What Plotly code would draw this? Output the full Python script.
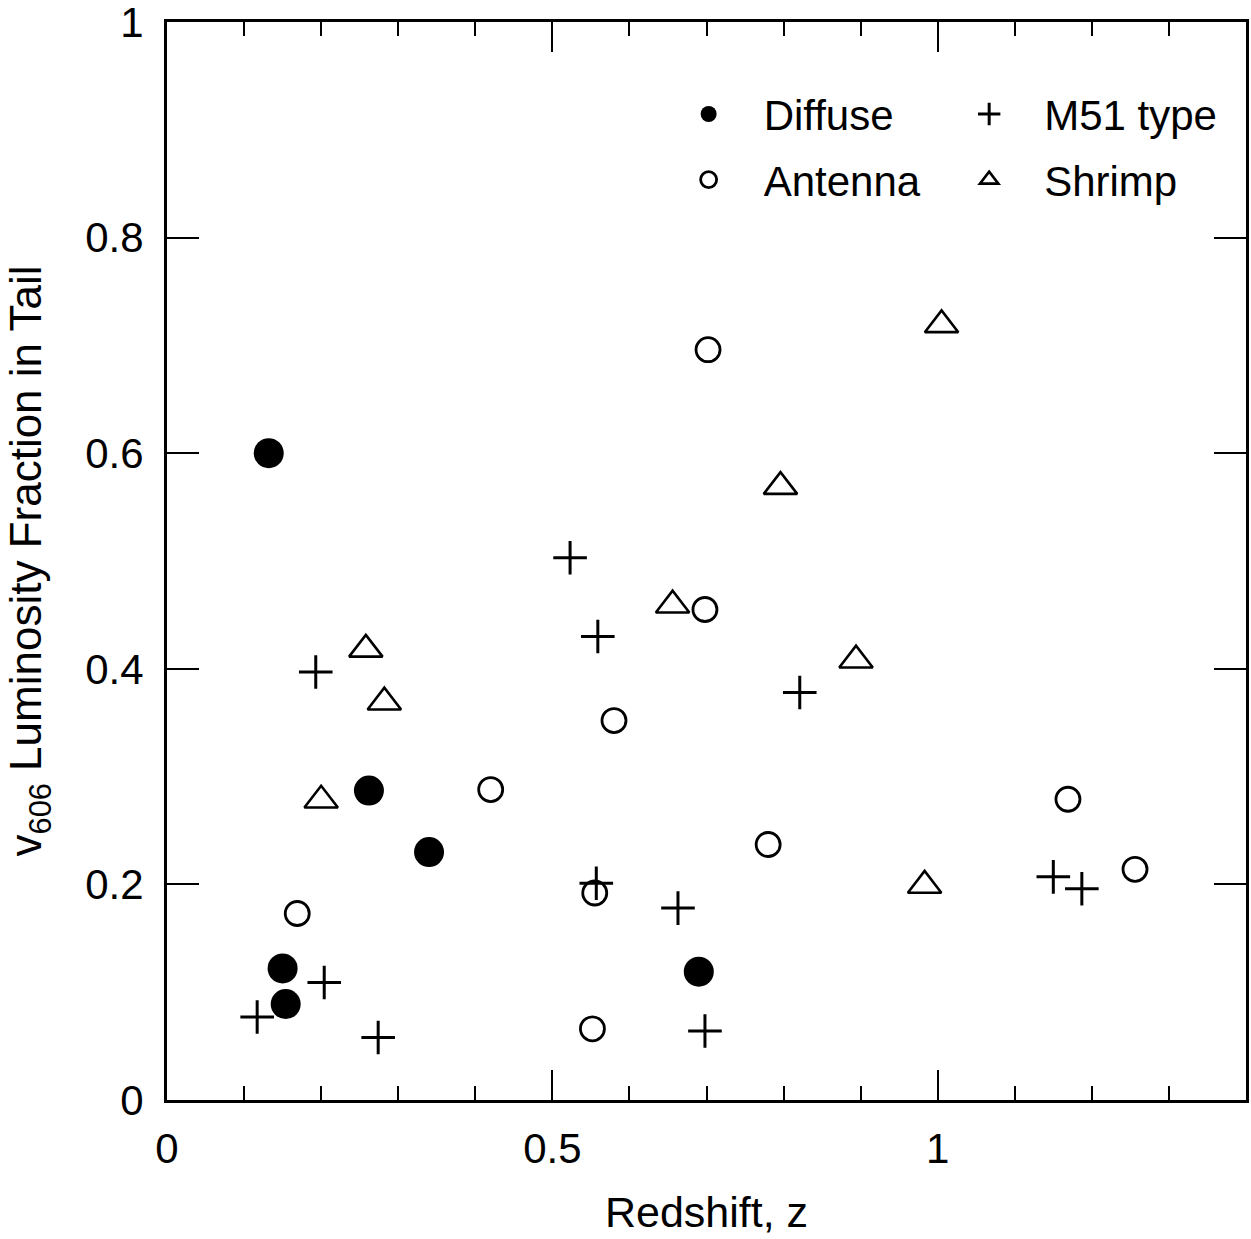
import plotly.graph_objects as go

# Diffuse (filled circles)
diffuse_z = [0.132, 0.262, 0.340, 0.150, 0.154, 0.690]
diffuse_f = [0.600, 0.287, 0.230, 0.122, 0.089, 0.119]

# Antenna (open circles)
antenna_z = [0.702, 0.698, 0.580, 0.420, 0.780, 1.169, 1.256, 0.169, 0.555, 0.552]
antenna_f = [0.696, 0.455, 0.352, 0.288, 0.237, 0.279, 0.214, 0.173, 0.192, 0.066]

# M51 type (plus)
m51_z = [0.523, 0.559, 0.193, 0.821, 0.557, 0.663, 0.698, 0.117, 0.204, 0.274, 1.150, 1.187]
m51_f = [0.503, 0.430, 0.397, 0.378, 0.201, 0.178, 0.064, 0.077, 0.109, 0.058, 0.207, 0.196]

# Shrimp (open triangles)
shrimp_z = [1.005, 0.796, 0.656, 0.258, 0.282, 0.894, 0.200, 0.983]
shrimp_f = [0.719, 0.569, 0.459, 0.418, 0.369, 0.408, 0.278, 0.199]

FONT = "Liberation Sans, Arial, Helvetica, sans-serif"

fig = go.Figure()
fig.add_trace(go.Scatter(x=diffuse_z, y=diffuse_f, mode="markers", name="Diffuse",
                         legend="legend", legendgroup="a",
                         marker=dict(symbol="circle", size=30, color="black")))
fig.add_trace(go.Scatter(x=antenna_z, y=antenna_f, mode="markers", name="Antenna",
                         legend="legend", legendgroup="b",
                         marker=dict(symbol="circle-open", size=24, color="black",
                                     line=dict(width=2.8, color="black"))))
fig.add_trace(go.Scatter(x=m51_z, y=m51_f, mode="markers", name="M51 type",
                         legend="legend2", legendgroup="c",
                         marker=dict(symbol="cross-thin-open", size=24, color="black",
                                     line=dict(width=3, color="black"))))
fig.add_trace(go.Scatter(x=shrimp_z, y=shrimp_f, mode="markers", name="Shrimp",
                         legend="legend2", legendgroup="d",
                         marker=dict(symbol="triangle-up-open", size=29, color="black",
                                     line=dict(width=2.6, color="black"))))

legend_common = dict(font=dict(family=FONT, size=42, color="black"),
                     bgcolor="rgba(0,0,0,0)", borderwidth=0,
                     itemsizing="trace", tracegroupgap=8, itemwidth=100,
                     xanchor="left", yanchor="top")

fig.update_layout(
    width=1251, height=1239,
    margin=dict(l=167, r=5, t=22, b=139, autoexpand=False),
    paper_bgcolor="white", plot_bgcolor="white",
    font=dict(family=FONT, size=42, color="black"),
    showlegend=True,
    legend=dict(x=0.451, y=0.946, **legend_common),
    legend2=dict(x=0.711, y=0.946, **legend_common),
    xaxis=dict(range=[0, 1.4], tickmode="array", tickvals=[0, 0.5, 1],
               ticktext=["0", "0.5", "1"],
               ticks="inside", ticklen=30, tickwidth=2, tickcolor="black",
               minor=dict(dtick=0.1, tick0=0, ticks="inside", ticklen=14,
                          tickwidth=2, tickcolor="black", showgrid=False),
               showline=True, linewidth=3, linecolor="black", mirror="allticks",
               showgrid=False, zeroline=False, ticklabelstandoff=10,
               ticklabeloverflow="allow", automargin=False,
               tickfont=dict(family=FONT, size=42),
               title=dict(text="Redshift, z", font=dict(family=FONT, size=43),
                          standoff=26)),
    yaxis=dict(range=[0, 1], tickmode="array", tickvals=[0, 0.2, 0.4, 0.6, 0.8, 1],
               ticktext=["0", "0.2", "0.4", "0.6", "0.8", "1"],
               ticks="inside", ticklen=32, tickwidth=2, tickcolor="black",
               showline=True, linewidth=3, linecolor="black", mirror="allticks",
               showgrid=False, zeroline=False, ticklabelstandoff=12,
               ticklabeloverflow="allow", automargin=False,
               tickfont=dict(family=FONT, size=42),
               title=dict(text="v<sub>606</sub> Luminosity Fraction in Tail",
                          font=dict(family=FONT, size=44), standoff=30)),
)

fig.write_html("out.html")
